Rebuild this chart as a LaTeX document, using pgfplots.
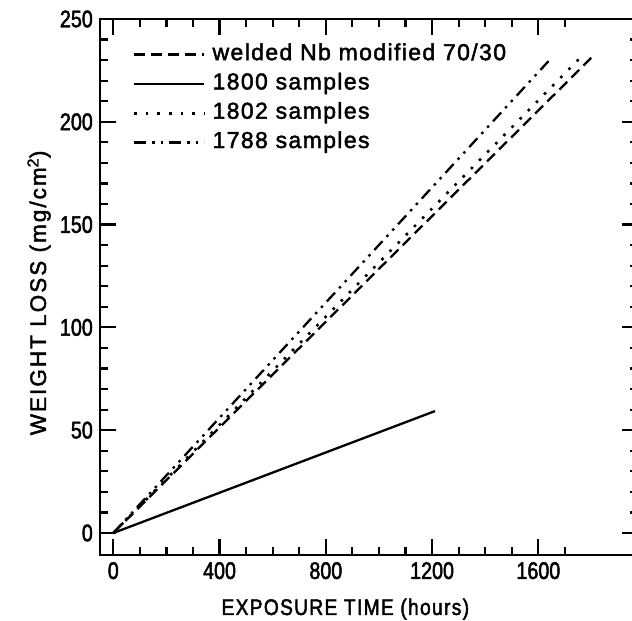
\documentclass[border=0pt]{standalone}
\usepackage{pgfplots}
\pgfplotsset{compat=1.18}
\usepackage{fontspec}
\setmainfont{Liberation Sans}[LetterSpace=6,FakeBold=2]
\newfontfamily\ylabfont{Liberation Sans}[LetterSpace=9,FakeBold=2]
\newfontfamily\tickfont{Liberation Sans}[FakeStretch=0.82,FakeBold=2]
\newfontfamily\xlabfont{Liberation Sans}[FakeStretch=0.85,LetterSpace=6,FakeBold=2]
\begin{document}
\begin{tikzpicture}
\begin{axis}[
  scale only axis, width=538bp, height=536bp,
  xmin=-50, xmax=1975, ymin=-10.7, ymax=250,
  axis line style={line width=2.4bp},
  tick style={line width=2.2bp, black},
  major tick length=16bp, minor tick length=8bp,
  tick align=inside,
  xtick={0,400,800,1200,1600},
  minor xtick={100,200,300,500,600,700,900,1000,1100,1300,1400,1500,1700},
  ytick={0,50,100,150,200,250},
  minor ytick={10,20,30,40,60,70,80,90,110,120,130,140,160,170,180,190,210,220,230,240},
  /pgf/number format/assume math mode=true,
  /pgf/number format/1000 sep={},
  ticklabel style={font=\tickfont\fontsize{24bp}{28bp}\selectfont},
  xticklabel style={inner sep=0pt, yshift=-7bp},
  yticklabel style={inner sep=0pt, xshift=-7bp},
  xlabel={EXPOSURE TIME (hours)},
  xlabel style={font=\xlabfont\fontsize{22.5bp}{26bp}\selectfont, at={(axis description cs:0.456,-0.1119)}, anchor=base},
  ylabel={WEIGHT LOSS (mg/cm\textsuperscript{2})},
  ylabel style={font=\ylabfont\fontsize{22.5bp}{26bp}\selectfont, at={(axis description cs:-0.1004,0.489)}, anchor=base},
  legend style={at={(axis description cs:0.0613,0.955)}, anchor=north west, draw=none, fill=none,
    inner sep=0pt, outer sep=0pt, font=\fontsize{23bp}{27bp}\selectfont, row sep=6.3bp,
    nodes={inner sep=0pt, text height=17bp, text depth=6bp},
    /tikz/every odd column/.append style={column sep=7bp}},
  legend cell align=left,
  legend image code/.code={\draw[#1] (0bp,0bp) -- (70bp,0bp);},
]
\addplot[black, line width=2.3bp, dash pattern=on 11bp off 6bp] coordinates {(0,0) (1806,232)};
\addlegendentry{welded Nb modified 70/30}
\addplot[black, line width=2.3bp] coordinates {(0,0) (1211,59.3)};
\addlegendentry{1800 samples}
\addplot[black, line width=2.6bp, dash pattern=on 2.6bp off 9bp] coordinates {(0,0) (1760,231.5)};
\addlegendentry{1802 samples}
\addplot[black, line width=2.3bp, dash pattern=on 12bp off 6bp on 2.5bp off 6bp on 2.5bp off 6bp] coordinates {(0,0) (1651,231.3)};
\addlegendentry{1788 samples}
\end{axis}
\pgfresetboundingbox
\path[use as bounding box] (-100bp,-66bp) rectangle (532bp,555bp);
\end{tikzpicture}
\end{document}
